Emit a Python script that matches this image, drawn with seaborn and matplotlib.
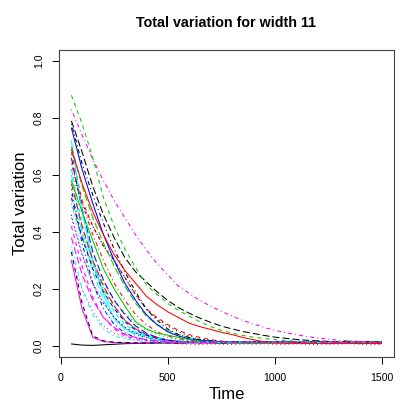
import numpy as np
import pandas as pd
import matplotlib
matplotlib.use("Agg")
import matplotlib.pyplot as plt
import seaborn as sns

# time points
time = [50, 100, 150, 200, 250, 300, 350, 400, 450, 500,
        550, 600, 650, 700, 750, 800, 850, 900, 950, 1000,
        1050, 1100, 1150, 1200, 1250, 1300, 1350, 1400, 1450, 1500]

# total variation per run (30 runs, matplot-style colour / line type cycle)
tv_01 = [.007,.003,.002,.004,.006,.008,.009,.010,.010,.011,.010,.011,.012,.011,.010,.011,.012,.011,.012,.011,.012,.013,.012,.011,.012,.013,.012,.011,.012,.012]
tv_02 = [.68,.51,.42,.35,.30,.24,.18,.13,.10,.075,.055,.040,.030,.022,.017,.014,.012,.013,.011,.012,.010,.012,.011,.013,.012,.010,.011,.012,.010,.011]
tv_03 = [.53,.40,.30,.22,.16,.115,.08,.055,.04,.03,.022,.018,.015,.013,.012,.014,.011,.013,.012,.010,.012,.014,.011,.013,.012,.011,.013,.012,.014,.012]
tv_04 = [.55,.36,.22,.13,.075,.045,.03,.022,.017,.015,.013,.014,.012,.011,.013,.012,.014,.011,.012,.013,.011,.012,.014,.013,.012,.011,.013,.012,.011,.012]
tv_05 = [.60,.40,.26,.16,.10,.06,.04,.03,.022,.018,.015,.013,.014,.012,.011,.013,.012,.011,.014,.012,.013,.011,.012,.014,.013,.012,.011,.013,.012,.014]
tv_06 = [.30,.13,.03,.015,.012,.011,.010,.011,.012,.010,.011,.012,.010,.011,.012,.011,.010,.012,.011,.010,.012,.011,.012,.010,.011,.012,.011,.010,.012,.011]
tv_07 = [.33,.15,.035,.018,.013,.012,.011,.010,.012,.011,.010,.012,.011,.013,.010,.012,.011,.010,.012,.013,.011,.010,.012,.011,.013,.012,.010,.011,.012,.011]
tv_08 = [.45,.32,.22,.15,.10,.065,.04,.03,.02,.012,.008,.006,.005,.007,.006,.005,.007,.006,.008,.006,.005,.007,.006,.005,.007,.006,.008,.006,.005,.006]
tv_09 = [.50,.38,.28,.20,.14,.09,.06,.04,.03,.02,.016,.013,.012,.014,.011,.013,.012,.010,.012,.013,.011,.012,.013,.011,.012,.014,.012,.011,.013,.012]
tv_10 = [.66,.48,.33,.23,.16,.11,.07,.045,.03,.02,.016,.014,.012,.013,.011,.012,.014,.013,.011,.012,.013,.012,.011,.013,.012,.014,.012,.011,.013,.012]
tv_11 = [.72,.47,.30,.18,.095,.06,.045,.035,.028,.022,.018,.015,.013,.012,.014,.012,.011,.013,.012,.014,.013,.012,.011,.013,.012,.014,.013,.012,.015,.013]
tv_12 = [.42,.28,.17,.10,.06,.035,.025,.02,.016,.014,.013,.012,.014,.011,.013,.012,.011,.013,.012,.014,.012,.011,.013,.012,.014,.013,.011,.012,.013,.012]
tv_13 = [.62,.50,.42,.35,.30,.24,.18,.13,.095,.07,.05,.035,.025,.02,.016,.014,.012,.013,.011,.012,.013,.011,.012,.014,.012,.011,.013,.012,.011,.012]
tv_14 = [.64,.50,.39,.30,.22,.16,.11,.075,.05,.035,.025,.02,.016,.014,.012,.013,.011,.012,.013,.011,.012,.010,.012,.013,.011,.012,.010,.011,.012,.011]
tv_15 = [.70,.56,.45,.36,.28,.21,.15,.105,.075,.055,.04,.03,.02,.016,.014,.012,.013,.011,.012,.014,.012,.011,.013,.012,.014,.013,.012,.011,.013,.012]
tv_16 = [.765,.62,.50,.39,.30,.22,.16,.11,.075,.05,.035,.025,.02,.017,.015,.014,.016,.013,.015,.014,.016,.015,.014,.016,.015,.014,.016,.015,.014,.015]
tv_17 = [.62,.43,.29,.19,.12,.075,.05,.035,.025,.02,.016,.014,.013,.015,.012,.014,.013,.012,.014,.013,.015,.012,.014,.013,.012,.015,.013,.014,.012,.013]
tv_18 = [.30,.20,.12,.07,.045,.03,.02,.016,.014,.013,.012,.014,.013,.011,.012,.013,.015,.012,.013,.014,.012,.013,.015,.014,.012,.013,.016,.014,.013,.012]
tv_19 = [.78,.64,.53,.43,.34,.26,.19,.13,.09,.06,.04,.03,.022,.018,.015,.014,.013,.015,.012,.014,.013,.012,.014,.013,.015,.012,.013,.014,.012,.013]
tv_20 = [.57,.42,.30,.21,.14,.09,.06,.04,.03,.02,.016,.014,.012,.013,.011,.012,.010,.012,.011,.013,.012,.010,.011,.012,.013,.011,.012,.010,.011,.012]
tv_21 = [.58,.47,.37,.27,.20,.14,.085,.06,.045,.038,.03,.022,.017,.014,.012,.011,.010,.012,.009,.011,.010,.012,.011,.009,.010,.012,.011,.010,.009,.011]
tv_22 = [.52,.38,.27,.19,.13,.085,.055,.038,.027,.02,.016,.014,.013,.015,.012,.014,.013,.015,.012,.014,.016,.013,.012,.014,.013,.015,.012,.014,.013,.015]
tv_23 = [.50,.33,.21,.13,.08,.05,.035,.025,.018,.015,.013,.014,.012,.015,.013,.012,.014,.016,.013,.012,.014,.013,.015,.012,.014,.013,.012,.015,.014,.013]
tv_24 = [.83,.74,.655,.58,.51,.45,.39,.337,.29,.25,.21,.185,.16,.14,.122,.105,.09,.077,.065,.055,.047,.04,.033,.028,.024,.02,.018,.016,.015,.014]
tv_25 = [.79,.68,.56,.46,.38,.31,.26,.225,.19,.16,.135,.115,.098,.083,.07,.06,.051,.044,.037,.031,.027,.023,.02,.018,.016,.015,.016,.014,.015,.014]
tv_26 = [.69,.57,.47,.39,.32,.265,.22,.175,.145,.12,.10,.08,.068,.058,.048,.04,.03,.022,.015,.012,.01,.011,.009,.010,.008,.009,.010,.008,.009,.008]
tv_27 = [.88,.78,.66,.52,.42,.34,.275,.215,.18,.15,.125,.105,.085,.068,.055,.045,.037,.031,.026,.022,.019,.017,.015,.016,.014,.015,.017,.014,.016,.015]
tv_28 = [.46,.32,.22,.15,.10,.065,.045,.032,.024,.018,.015,.013,.014,.012,.015,.013,.014,.012,.013,.015,.014,.012,.013,.014,.016,.013,.012,.014,.013,.015]
tv_29 = [.35,.20,.11,.06,.035,.025,.02,.016,.014,.013,.015,.012,.014,.013,.012,.014,.015,.013,.012,.014,.013,.016,.014,.012,.013,.015,.014,.013,.012,.014]
tv_30 = [.38,.25,.16,.10,.065,.04,.03,.022,.018,.015,.013,.014,.012,.013,.015,.012,.014,.013,.012,.014,.013,.015,.012,.014,.013,.012,.014,.015,.013,.012]

runs = [tv_01, tv_02, tv_03, tv_04, tv_05, tv_06, tv_07, tv_08, tv_09, tv_10,
        tv_11, tv_12, tv_13, tv_14, tv_15, tv_16, tv_17, tv_18, tv_19, tv_20,
        tv_21, tv_22, tv_23, tv_24, tv_25, tv_26, tv_27, tv_28, tv_29, tv_30]

# R palette cols 1:6 and lty 1:5
r_cols = ["#000000", "#FF0000", "#00CD00", "#0000FF", "#00FFFF", "#FF00FF"]
r_lty = ["solid", (0, (2.9, 2.9)), (0, (0.75, 2.2)), (0, (0.75, 2.2, 2.9, 2.2)), (0, (5.0, 2.2))]

sns.set_style("white")
plt.rcParams['font.family'] = ['Liberation Sans', 'DejaVu Sans']
plt.rcParams['lines.scale_dashes'] = False
plt.rcParams['text.color'] = 'black'
plt.rcParams['axes.labelcolor'] = 'black'

fig = plt.figure(figsize=(4.07, 4.07), dpi=100)
ax = fig.add_axes([0.145, 0.122, 0.823, 0.756])

for i, vals in enumerate(runs):
    df = pd.DataFrame({"Time": time, "tv": vals})
    sns.lineplot(data=df, x="Time", y="tv", ax=ax, color=r_cols[i % 6],
                 linestyle=r_lty[i % 5], linewidth=0.75)

ax.set_xlim(-8, 1558)
ax.set_ylim(-0.04, 1.04)
ax.set_xticks([0, 500, 1000, 1500])
ax.set_yticks([0, 0.2, 0.4, 0.6, 0.8, 1.0])
ax.set_yticklabels(["0.0", "0.2", "0.4", "0.6", "0.8", "1.0"], rotation=90, va="center")
ax.tick_params(axis="both", direction="out", length=5, width=0.7, pad=6,
               labelsize=7.6, colors="black", bottom=True, left=True)
for s in ax.spines.values():
    s.set_color("#444444")
    s.set_linewidth(0.8)

ax.set_xlabel("Time", fontsize=12, labelpad=3)
ax.set_ylabel("Total variation", fontsize=12, labelpad=4)
ax.set_title("Total variation for width 11", fontsize=10.3, fontweight="bold", pad=16)

fig.savefig("out.png", dpi=100)
